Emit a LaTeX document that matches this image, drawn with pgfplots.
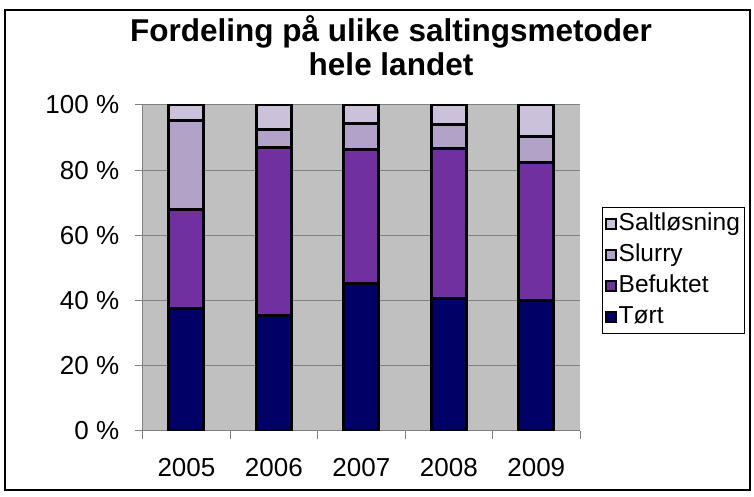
\documentclass[border=0pt]{standalone}
\usepackage{pgfplots}
\pgfplotsset{compat=1.18}
\usepackage{fontspec}
\setmainfont{Liberation Sans}
\definecolor{torr}{HTML}{000066}
\definecolor{befuktet}{HTML}{7030A0}
\definecolor{slurry}{HTML}{B3A2C7}
\definecolor{salt}{HTML}{CCC1DA}
\definecolor{plotgray}{HTML}{C0C0C0}
\definecolor{gridgray}{HTML}{808080}
\begin{document}
\begin{tikzpicture}[x=1pt,y=1pt]
\useasboundingbox (0,0) rectangle (754,497);
\draw[line width=1.5pt] (5,7) rectangle (750,487);
\node[font=\fontsize{31.5}{36}\selectfont\bfseries, anchor=base] at (391,455) {Fordeling på ulike saltingsmetoder};
\node[font=\fontsize{31.5}{36}\selectfont\bfseries, anchor=base] at (391,421) {hele landet};
\begin{axis}[
  at={(142.7pt,66.3pt)}, anchor=south west,
  scale only axis, width=437.3pt, height=325.7pt,
  xmin=-0.5, xmax=4.5, ymin=0, ymax=100,
  ybar stacked, bar width=35pt,
  axis background/.style={fill=plotgray},
  xtick={0,1,2,3,4}, xticklabels={2005,2006,2007,2008,2009},
  minor xtick={-0.5,0.5,1.5,2.5,3.5,4.5},
  major x tick style={draw=none},
  ytick={0,20,40,60,80,100},
  yticklabel={\pgfmathprintnumber{\tick} \%},
  ymajorgrids, grid style={gridgray, line width=1pt},
  axis x line*=bottom, axis y line*=left,
  axis line style={draw=gridgray, line width=1pt, -},
  tick align=outside, major tick length=8pt, minor tick length=8pt,
  tick style={gridgray, line width=1pt},
  /pgf/number format/assume math mode=true,
  tick label style={font=\fontsize{26}{31}\selectfont},
  xticklabel style={yshift=-16pt},
  yticklabel style={xshift=-12pt},
  reverse legend,
  legend cell align=left,
  legend style={at={(1.0503,0.6868)}, anchor=north west, draw=black, line width=1pt,
    font=\fontsize{24.5}{28}\selectfont, row sep=4pt, inner sep=3pt,
    nodes={text height=18pt, text depth=5pt, inner xsep=2pt}},
  legend image code/.code={\draw[#1, draw=black, line width=1.2pt] (0pt,-5pt) rectangle (10pt,5pt);},
]
\addplot[fill=torr, draw=black, line width=3pt] coordinates {(0,37.6) (1,35.4) (2,45.2) (3,40.6) (4,40.1)};
\addplot[fill=befuktet, draw=black, line width=3pt] coordinates {(0,30.2) (1,51.5) (2,41.2) (3,46.1) (4,42.1)};
\addplot[fill=slurry, draw=black, line width=3pt] coordinates {(0,27.4) (1,5.7) (2,8.0) (3,7.2) (4,8.2)};
\addplot[fill=salt, draw=black, line width=3pt] coordinates {(0,4.8) (1,7.4) (2,5.6) (3,6.1) (4,9.6)};
\legend{Tørt,Befuktet,Slurry,Saltløsning}
\end{axis}
\end{tikzpicture}
\end{document}
